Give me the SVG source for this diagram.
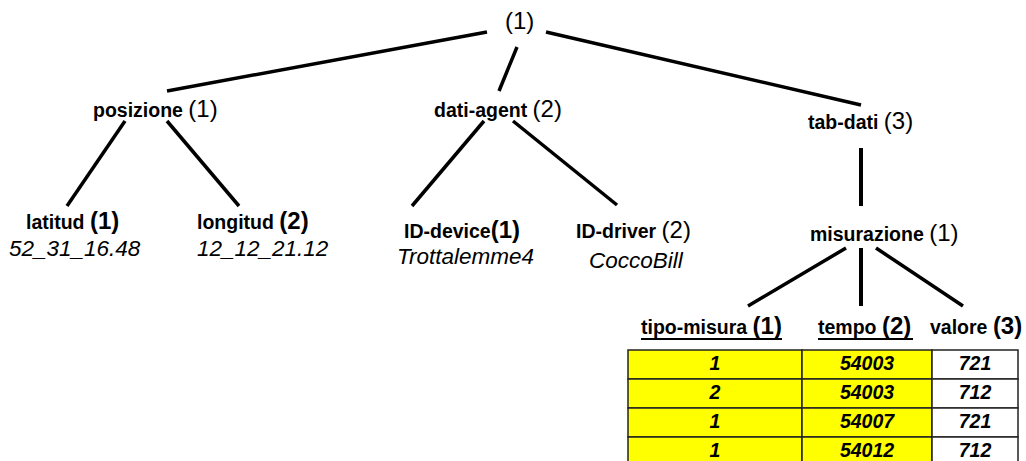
<svg xmlns="http://www.w3.org/2000/svg" width="1026" height="461" viewBox="0 0 1026 461">
<style>
text{font-family:"Liberation Sans",Arial,sans-serif;fill:#000}
.lb{font-weight:bold;font-size:19.5px}
.pn{font-size:24px}
.pb{font-size:24px;font-weight:bold}
.val{font-style:italic;font-size:22.5px}
.cell{font-style:italic;font-weight:bold;font-size:19.5px;text-anchor:middle}
.e{stroke:#000;stroke-width:3.5;fill:none}
.u{stroke:#000;stroke-width:2.2}
.y{fill:#ffff00;stroke:#222;stroke-width:1.5}
.w{fill:#fff;stroke:#222;stroke-width:1.5}
</style>
<rect width="1026" height="461" fill="#fff"/>
<g id="connectors">
<line class="e" x1="487" y1="32" x2="167" y2="91"/>
<line class="e" x1="517" y1="47" x2="499" y2="91"/>
<line class="e" x1="546" y1="32" x2="861" y2="105"/>
<line class="e" x1="125" y1="121" x2="67" y2="206"/>
<line class="e" x1="167" y1="121" x2="239" y2="206"/>
<line class="e" x1="484" y1="121" x2="412" y2="206"/>
<line class="e" x1="513" y1="121" x2="617" y2="205"/>
<line class="e" x1="861" y1="148" x2="861" y2="206" style="stroke-width:4"/>
<line class="e" x1="846" y1="248" x2="748" y2="306"/>
<line class="e" x1="861" y1="248" x2="861" y2="306" style="stroke-width:4"/>
<line class="e" x1="876" y1="248" x2="963" y2="306"/>
</g>
<g id="root"><text class="pn" x="505" y="29">(1)</text></g>
<g id="posizione"><text x="93" y="117"><tspan class="lb">posizione </tspan><tspan class="pn">(1)</tspan></text></g>
<g id="dati-agent"><text x="434" y="117"><tspan class="lb">dati-agent </tspan><tspan class="pn">(2)</tspan></text></g>
<g id="tab-dati"><text x="808" y="129"><tspan class="lb">tab-dati </tspan><tspan class="pn">(3)</tspan></text></g>
<g id="latitud"><text x="26" y="229"><tspan class="lb">latitud </tspan><tspan class="pb">(1)</tspan></text>
<text class="val" x="9" y="256">52_31_16.48</text></g>
<g id="longitud"><text x="197" y="229"><tspan class="lb">longitud </tspan><tspan class="pb">(2)</tspan></text>
<text class="val" x="197" y="256">12_12_21.12</text></g>
<g id="id-device"><text x="404" y="238"><tspan class="lb">ID-device</tspan><tspan class="pb">(1)</tspan></text>
<text class="val" x="397" y="264">Trottalemme4</text></g>
<g id="id-driver"><text x="576" y="238"><tspan class="lb">ID-driver </tspan><tspan class="pn">(2)</tspan></text>
<text class="val" x="589" y="268">CoccoBill</text></g>
<g id="misurazione"><text x="810" y="241"><tspan class="lb">misurazione </tspan><tspan class="pn">(1)</tspan></text></g>
<g id="tipo-misura"><text x="641" y="334"><tspan class="lb">tipo-misura </tspan><tspan class="pb">(1)</tspan></text><line class="u" x1="641" y1="339" x2="782" y2="339"/></g>
<g id="tempo"><text x="818" y="334"><tspan class="lb">tempo </tspan><tspan class="pb">(2)</tspan></text><line class="u" x1="818" y1="339" x2="913" y2="339"/></g>
<g id="valore"><text x="930" y="334"><tspan class="lb">valore </tspan><tspan class="pb">(3)</tspan></text></g>
<g id="table">
<rect class="y" x="628" y="350" width="174" height="29"/><rect class="y" x="802" y="350" width="130" height="29"/><rect class="w" x="932" y="350" width="86" height="29"/>
<rect class="y" x="628" y="379" width="174" height="29"/><rect class="y" x="802" y="379" width="130" height="29"/><rect class="w" x="932" y="379" width="86" height="29"/>
<rect class="y" x="628" y="408" width="174" height="29"/><rect class="y" x="802" y="408" width="130" height="29"/><rect class="w" x="932" y="408" width="86" height="29"/>
<rect class="y" x="628" y="437" width="174" height="29"/><rect class="y" x="802" y="437" width="130" height="29"/><rect class="w" x="932" y="437" width="86" height="29"/>
<text class="cell" x="715" y="370">1</text><text class="cell" x="867" y="370">54003</text><text class="cell" x="975" y="370">721</text>
<text class="cell" x="715" y="399">2</text><text class="cell" x="867" y="399">54003</text><text class="cell" x="975" y="399">712</text>
<text class="cell" x="715" y="428">1</text><text class="cell" x="867" y="428">54007</text><text class="cell" x="975" y="428">721</text>
<text class="cell" x="715" y="457">1</text><text class="cell" x="867" y="457">54012</text><text class="cell" x="975" y="457">712</text>
</g>
</svg>
